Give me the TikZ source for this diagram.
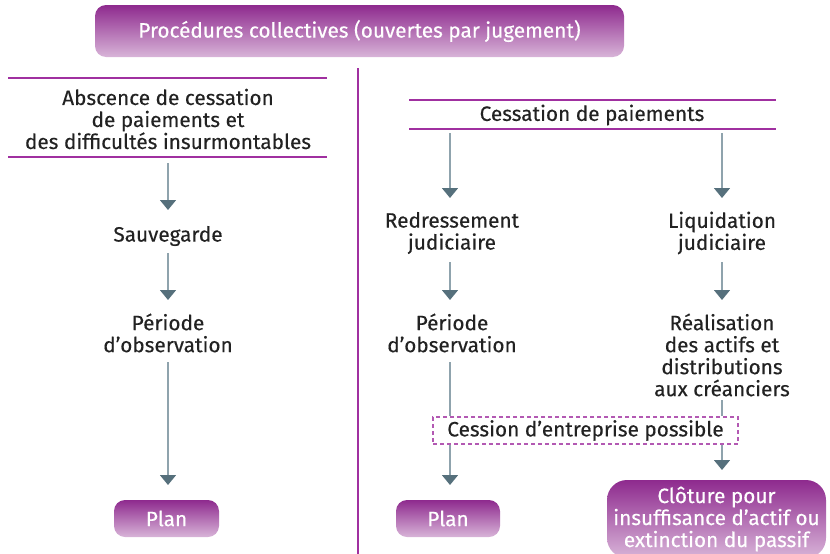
\documentclass[tikz,border=0pt]{standalone}
\usepackage{fontspec}
\setmainfont{Fira Sans}[FakeBold=0.3]
\usetikzlibrary{arrows.meta}
\definecolor{purp}{HTML}{A030A0}
\definecolor{ptop}{HTML}{8E2A8E}
\definecolor{pbot}{HTML}{D8B4D8}
\definecolor{shaft}{HTML}{8FA3AD}
\definecolor{head}{HTML}{56707C}
\definecolor{ink}{HTML}{222222}
\begin{document}
\begin{tikzpicture}[x=1pt,y=-1pt,
  font=\fontsize{20.8}{22}\selectfont,
  pbox/.style={top color=ptop,bottom color=pbot,rounded corners=11pt,text=white,inner sep=0pt,align=center},
  txt/.style={text=ink,align=center,inner sep=0pt},
  hline/.style={draw=purp,line width=1.1pt},
  arr/.style={draw=shaft,line width=1.6pt,-{Triangle[width=16pt,length=10pt,color=head]}},
  plain/.style={draw=shaft,line width=1.6pt},
  dbox/.style={draw=purp!80,dashed,dash pattern=on 4pt off 3pt,line width=1.1pt,text=ink,inner sep=0pt}]
\useasboundingbox (0,0) rectangle (830,554);

% top
\node[pbox,minimum width=529pt,minimum height=52pt] (top) at (359.5,31) {Procédures collectives (ouvertes par jugement)};
\draw[hline] (358,68) -- (358,556);

% left column
\draw[hline] (8,78) -- (327,78);
\draw[hline] (8,157) -- (327,157);
\node[txt] (abs) at (168,119) {Abscence de cessation\\de paiements et\\des difficultés insurmontables};
\node[txt] (sauv) at (168,236) {Sauvegarde};
\node[txt] (perL) at (168,333) {Période\\d’observation};
\node[pbox,minimum width=105pt,minimum height=37pt] (planL) at (166.5,518.5) {Plan};
\draw[arr] (168,163) -- (168,210);
\draw[arr] (168,253) -- (168,300);
\draw[arr] (168,362) -- (168,485);

% right column
\draw[hline] (409,100) -- (776,100);
\draw[hline] (409,129) -- (776,129);
\node[txt] (cess) at (592,115) {Cessation de paiements};
\node[txt] (redr) at (452,233) {Redressement\\judiciaire};
\node[txt] (liq) at (722,233) {Liquidation\\judiciaire};
\node[txt] (perR) at (452,333) {Période\\d’observation};
\node[txt] (real) at (722,355) {Réalisation\\des actifs et\\distributions\\aux créanciers};
\node[dbox,minimum width=305pt,minimum height=27pt] (cession) at (585.5,430.5) {Cession d’entreprise possible};
\node[pbox,minimum width=104pt,minimum height=37pt] (planR) at (448,518.5) {Plan};
\node[pbox,minimum width=219pt,minimum height=78pt,rounded corners=20pt] (clot) at (716.5,519) {Clôture pour\\insuffisance d’actif ou\\extinction du passif};

\draw[arr] (450,133) -- (450,198);
\draw[arr] (722,133) -- (722,198);
\draw[arr] (450,262) -- (450,300);
\draw[arr] (722,262) -- (722,300);
\draw[plain] (450,362) -- (450,0 |- cession.north);
\draw[plain] (722,400) -- (722,0 |- cession.north);
\draw[arr] (450,0 |- cession.south) -- (450,485);
\draw[arr] (722,0 |- cession.south) -- (722,470);
\end{tikzpicture}
\end{document}
